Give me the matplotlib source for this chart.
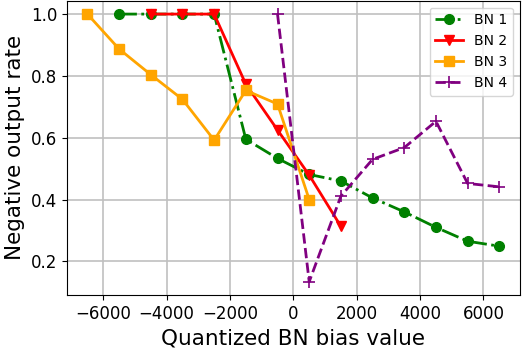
import numpy as np
import matplotlib.pyplot as plt

# 量化BN偏置值
bias_bn1 = [-5500, -4500, -3500, -2500, -1500, -500, 500, 1500, 2500, 3500, 4500, 5500, 6500]
rate_bn1 = [1.0, 1.0, 1.0, 1.0, 0.595, 0.533, 0.481, 0.46, 0.405, 0.36, 0.31, 0.265, 0.249]

bias_bn2 = [-4500, -3500, -2500, -1500, -500, 500, 1500]
rate_bn2 = [1.0, 1.0, 1.0, 0.773, 0.625, 0.479, 0.313]

bias_bn3 = [-6500, -5500, -4500, -3500, -2500, -1500, -500, 500]
rate_bn3 = [1.0, 0.887, 0.804, 0.724, 0.592, 0.753, 0.709, 0.40]

bias_bn4 = [-500, 500, 1500, 2500, 3500, 4500, 5500, 6500]
rate_bn4 = [1.0, 0.134, 0.411, 0.53, 0.568, 0.653, 0.452, 0.441]

fig = plt.figure(figsize=(5.22, 3.48), dpi=100)
ax = fig.add_axes([0.128, 0.152, 0.868, 0.846])

ax.plot(bias_bn1, rate_bn1, color='green', marker='o', linestyle='-.', lw=2, ms=7, label='BN 1')
ax.plot(bias_bn2, rate_bn2, color='red', marker='v', linestyle='-', lw=2, ms=7, label='BN 2')
ax.plot(bias_bn3, rate_bn3, color='orange', marker='s', linestyle='-', lw=2, ms=7, label='BN 3')
ax.plot(bias_bn4, rate_bn4, color='purple', marker='+', linestyle='--', lw=2, ms=8, mew=1.2, label='BN 4')

ax.grid(True, color='#c0c0c0', lw=1.2)
ax.set_axisbelow(True)
ax.tick_params(labelsize=12)
ax.set_xlabel('Quantized BN bias value', fontsize=15.5)
ax.set_ylabel('Negative output rate', fontsize=15.5)
ax.set_xticks([-6000, -4000, -2000, 0, 2000, 4000, 6000])
ax.set_yticks([0.2, 0.4, 0.6, 0.8, 1.0])
ax.legend(loc='upper right', fontsize=10)

plt.savefig('out.png', dpi=100)
